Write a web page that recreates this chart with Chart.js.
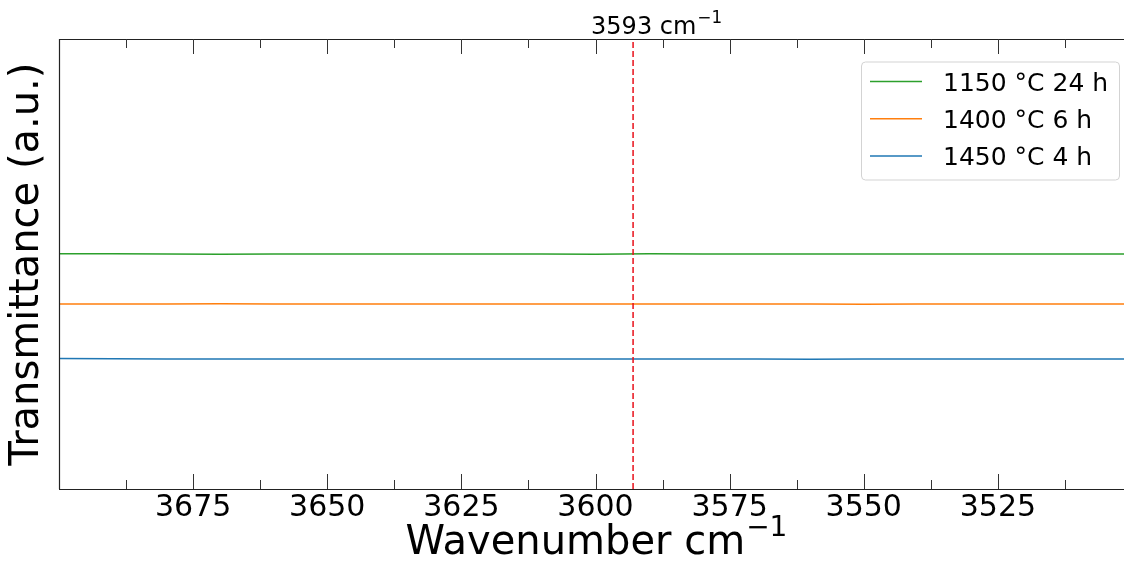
<!DOCTYPE html>
<html>
<head>
<meta charset="utf-8">
<script src="https://cdn.jsdelivr.net/npm/chart.js@4.4.1/dist/chart.umd.min.js"></script>
<style>
  html, body { margin: 0; padding: 0; background: #fff; }
  #wrap { width: 1124px; height: 565px; }
</style>
</head>
<body>
<div id="wrap"><canvas id="c" width="1124" height="565"></canvas></div>
<script>
// Wavenumber grid (cm^-1) shared by the three spectra
const wavenumbers = [3700, 3690, 3680, 3670, 3660, 3650, 3640, 3630, 3620, 3610, 3600,
                     3590, 3580, 3570, 3560, 3550, 3540, 3530, 3520, 3510, 3500];

// Offset transmittance traces (arbitrary units)
const t1150_24h = [0.5230, 0.5228, 0.5220, 0.5218, 0.5222, 0.5224, 0.5220, 0.5222, 0.5224, 0.5221, 0.5218,
                   0.5226, 0.5225, 0.5222, 0.5220, 0.5223, 0.5220, 0.5224, 0.5222, 0.5223, 0.5222];
const t1400_6h  = [0.4110, 0.4112, 0.4110, 0.4115, 0.4113, 0.4111, 0.4109, 0.4112, 0.4110, 0.4111, 0.4110,
                   0.4113, 0.4112, 0.4111, 0.4112, 0.4108, 0.4112, 0.4111, 0.4112, 0.4110, 0.4111];
const t1450_4h  = [0.2900, 0.2895, 0.2888, 0.2889, 0.2891, 0.2888, 0.2890, 0.2887, 0.2889, 0.2888, 0.2891,
                   0.2890, 0.2889, 0.2890, 0.2886, 0.2888, 0.2889, 0.2887, 0.2889, 0.2888, 0.2888];

const seriesLabels = ['1150 °C 24 h', '1400 °C 6 h', '1450 °C 4 h'];
const seriesColors = ['#2ca02c', '#ff7f0e', '#1f77b4'];

// Marked O–H band position
const markerWavenumber = 3593;
const markerText = '3593 cm';
const xLabelText = 'Wavenumber cm';
const unitSup = '\u22121';

// Axis ticks
const majorTicks = [3675, 3650, 3625, 3600, 3575, 3550, 3525];
const minorTicks = [3687.5, 3662.5, 3637.5, 3612.5, 3587.5, 3562.5, 3537.5, 3512.5];
const xRange = [3501.5, 3700];
const yRange = [0, 1];

const FONT = "'DejaVu Sans', sans-serif";

function pts(ys) { return wavenumbers.map((x, i) => ({ x: x, y: ys[i] })); }

const spectra = [t1150_24h, t1400_6h, t1450_4h].map((ys, i) => ({
  label: seriesLabels[i],
  data: pts(ys),
  borderColor: seriesColors[i],
  borderWidth: 1.5,
  pointRadius: 0,
  tension: 0,
  fill: false,
  order: 1
}));

const markerLine = {
  label: 'marker',
  data: [{ x: markerWavenumber, y: yRange[0] }, { x: markerWavenumber, y: yRange[1] }],
  borderColor: '#e8101a',
  borderWidth: 1.5,
  borderDash: [6, 3],
  pointRadius: 0,
  fill: false,
  order: 0
};

// text with a raised "−1" exponent
function drawWithSup(ctx, text, sup, x, y, size, align) {
  ctx.font = size + 'px ' + FONT;
  const w = ctx.measureText(text).width;
  ctx.font = (size * 0.7) + 'px ' + FONT;
  const ws = ctx.measureText(sup).width;
  const total = w + 1 + ws;
  const x0 = align === 'center' ? x - total / 2 : x;
  ctx.textAlign = 'left';
  ctx.textBaseline = 'alphabetic';
  ctx.font = size + 'px ' + FONT;
  ctx.fillText(text, x0, y);
  ctx.font = (size * 0.7) + 'px ' + FONT;
  ctx.fillText(sup, x0 + w + 1, y - size * 0.45);
}

// Frame, inward ticks, legend box, axis label and marker caption
const framePlugin = {
  id: 'frame',
  afterDraw(chart) {
    const ctx = chart.ctx;
    const a = chart.chartArea;
    const xs = chart.scales.x;
    ctx.save();
    // spines (left, top, bottom)
    ctx.strokeStyle = '#222';
    ctx.lineWidth = 1.2;
    ctx.beginPath();
    ctx.moveTo(a.left + 0.5, a.top);
    ctx.lineTo(a.left + 0.5, a.bottom);
    ctx.moveTo(a.left, a.top + 0.5);
    ctx.lineTo(a.right, a.top + 0.5);
    ctx.moveTo(a.left, a.bottom + 0.5);
    ctx.lineTo(a.right, a.bottom + 0.5);
    ctx.stroke();
    // inward ticks on bottom and top
    ctx.strokeStyle = '#333';
    ctx.lineWidth = 1;
    const tick = (v, len) => {
      const px = Math.round(xs.getPixelForValue(v)) + 0.5;
      ctx.beginPath();
      ctx.moveTo(px, a.bottom);
      ctx.lineTo(px, a.bottom - len);
      ctx.moveTo(px, a.top);
      ctx.lineTo(px, a.top + len);
      ctx.stroke();
    };
    majorTicks.forEach(v => tick(v, 15));
    minorTicks.forEach(v => tick(v, 9));

    ctx.fillStyle = '#000';
    // caption above the marker line
    drawWithSup(ctx, markerText, unitSup, xs.getPixelForValue(markerWavenumber) - 42, 34, 24, 'left');
    // x-axis label
    drawWithSup(ctx, xLabelText, unitSup, (a.left + a.right) / 2 + 5, 554, 40, 'center');

    // legend
    const bw = 258, bh = 118;
    const bx = a.right - 5 - bw, by = a.top + 22.5;
    ctx.beginPath();
    ctx.roundRect(bx + 0.5, by + 0.5, bw, bh, 4);
    ctx.fillStyle = 'rgba(255,255,255,0.85)';
    ctx.fill();
    ctx.strokeStyle = '#d3d3d3';
    ctx.lineWidth = 1;
    ctx.stroke();
    ctx.font = '25px ' + FONT;
    ctx.textAlign = 'left';
    ctx.textBaseline = 'alphabetic';
    chart.data.datasets.filter(d => d.label !== 'marker').forEach((d, i) => {
      const cy = by + 20 + i * 37.3;
      ctx.strokeStyle = d.borderColor;
      ctx.lineWidth = 1.5;
      ctx.beginPath();
      ctx.moveTo(bx + 9, cy);
      ctx.lineTo(bx + 61, cy);
      ctx.stroke();
      ctx.fillStyle = '#000';
      ctx.fillText(d.label, bx + 82, cy + 9);
    });
    ctx.restore();
  }
};

new Chart(document.getElementById('c'), {
  type: 'line',
  data: { datasets: [markerLine, ...spectra] },
  options: {
    responsive: false,
    animation: false,
    devicePixelRatio: 1,
    layout: { padding: { left: 8, right: 0, top: 39, bottom: 38 } },
    plugins: { legend: { display: false }, tooltip: { enabled: false }, title: { display: false } },
    scales: {
      x: {
        type: 'linear',
        reverse: true,
        min: xRange[0],
        max: xRange[1],
        afterBuildTicks: (s) => { s.ticks = majorTicks.map(v => ({ value: v })); },
        grid: { display: false, drawTicks: false },
        border: { display: false },
        ticks: {
          color: '#000',
          padding: 4,
          maxRotation: 0,
          font: { family: FONT, size: 30, lineHeight: 1 },
          callback: (v) => String(v)
        }
      },
      y: {
        min: yRange[0],
        max: yRange[1],
        grid: { display: false, drawTicks: false },
        border: { display: false },
        ticks: { display: false },
        title: {
          display: true,
          text: 'Transmittance (a.u.)',
          color: '#000',
          padding: { top: 0, bottom: 11 },
          font: { family: FONT, size: 40, lineHeight: 1 }
        }
      }
    }
  },
  plugins: [framePlugin]
});
</script>
</body>
</html>
